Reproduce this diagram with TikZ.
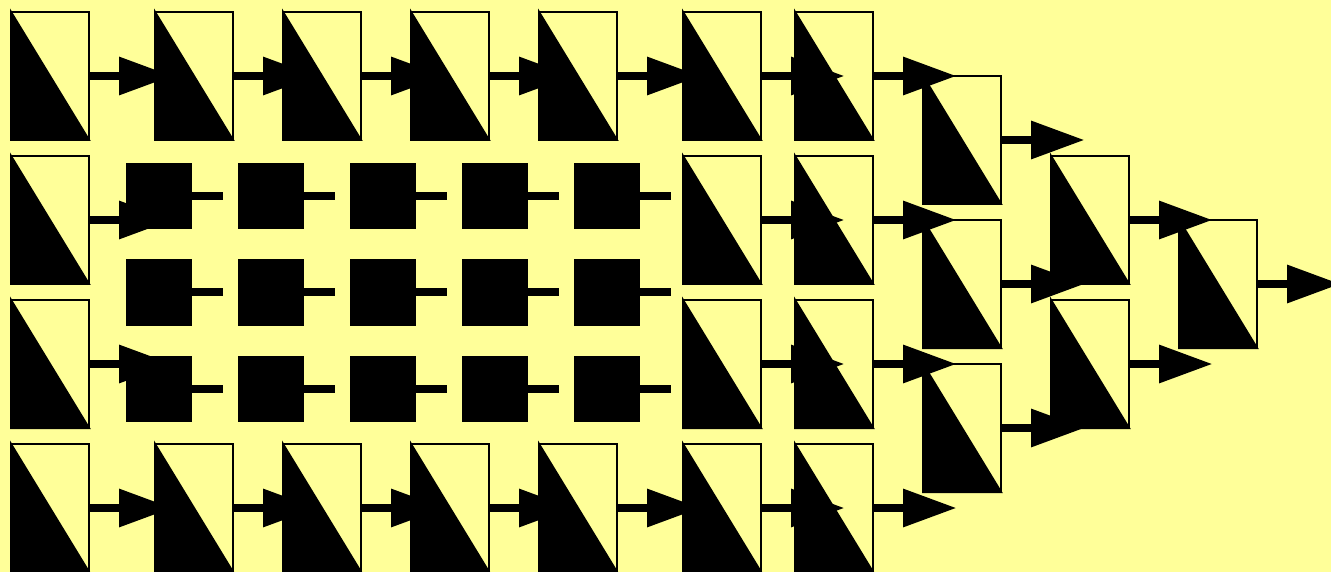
\documentclass[tikz,border=0pt]{standalone}
\usepackage{xcolor}
\usetikzlibrary{positioning, arrows.meta}
\definecolor{paleyellow}{HTML}{FFFF99}

\begin{document}
\begin{tikzpicture}[
    node distance=3.2mm and 10mm,
    halfbox/.style={rectangle, draw, line width=0.4mm, outer sep=0pt, minimum width=15.6mm, minimum height=25.6mm,
        append after command={(\tikzlastnode.north west) edge[fill=black, line width=0.4mm, to path={-- (\tikztotarget) -| (\tikztostart) -- cycle}] (\tikzlastnode.south east)}},
    block/.style={rectangle, fill=black, outer sep=0pt, minimum size=13.2mm},
    arrow/.style={-{Triangle[length=10.7mm, width=7.3mm]}, line width=1.6mm},
    stub/.style={line width=1.6mm}
]
\fill[paleyellow] (0,0) rectangle (26.62,-11.44);
\useasboundingbox (0,0) rectangle (26.62,-11.44);

% left column
\node[halfbox] (a1) at (1,-1.52) {};
\node[halfbox, below=of a1] (a2) {};
\node[halfbox, below=of a2] (a3) {};
\node[halfbox, below=of a3] (a4) {};

% top row
\node[halfbox, right=13.2mm of a1] (b1) {};
\node[halfbox, right=of b1] (c1) {};
\node[halfbox, right=of c1] (d1) {};
\node[halfbox, right=of d1] (e1) {};
\node[halfbox, right=13.2mm of e1] (f1) {};
\node[halfbox, right=6.8mm of f1] (g1) {};

% bottom row
\node[halfbox, right=13.2mm of a4] (b4) {};
\node[halfbox, right=of b4] (c4) {};
\node[halfbox, right=of c4] (d4) {};
\node[halfbox, right=of d4] (e4) {};
\node[halfbox, right=13.2mm of e4] (f4) {};
\node[halfbox, right=6.8mm of f4] (g4) {};

% the two middle rows on the right
\node[halfbox, below=of f1] (f2) {};
\node[halfbox, below=of f2] (f3) {};
\node[halfbox, below=of g1] (g2) {};
\node[halfbox, below=of g2] (g3) {};

% merging stages
\node[halfbox, right=of g1, yshift=-12.8mm] (h1) {};
\node[halfbox, below=of h1] (h2) {};
\node[halfbox, below=of h2] (h3) {};
\node[halfbox, right=of h1, yshift=-16mm] (i1) {};
\node[halfbox, below=of i1] (i2) {};
\node[halfbox, right=of i1, yshift=-12.8mm] (j1) {};

% small blocks
\node[block, right=7.4mm of a2, yshift=4.7mm] (s11) {};
\node[block, right=9.2mm of s11] (s12) {};
\node[block, right=9.2mm of s12] (s13) {};
\node[block, right=9.2mm of s13] (s14) {};
\node[block, right=9.2mm of s14] (s15) {};
\node[block, below=6mm of s11] (s21) {};
\node[block, right=9.2mm of s21] (s22) {};
\node[block, right=9.2mm of s22] (s23) {};
\node[block, right=9.2mm of s23] (s24) {};
\node[block, right=9.2mm of s24] (s25) {};
\node[block, below=6mm of s21] (s31) {};
\node[block, right=9.2mm of s31] (s32) {};
\node[block, right=9.2mm of s32] (s33) {};
\node[block, right=9.2mm of s33] (s34) {};
\node[block, right=9.2mm of s34] (s35) {};

% arrows
\coordinate[right=16.7mm of a1.east] (a1end); \draw[arrow] (a1) -- (a1end);
\coordinate[right=16.7mm of a2.east] (a2end); \draw[arrow] (a2) -- (a2end);
\coordinate[right=16.7mm of a3.east] (a3end); \draw[arrow] (a3) -- (a3end);
\coordinate[right=16.7mm of a4.east] (a4end); \draw[arrow] (a4) -- (a4end);
\coordinate[right=16.7mm of b1.east] (b1end); \draw[arrow] (b1) -- (b1end);
\coordinate[right=16.7mm of c1.east] (c1end); \draw[arrow] (c1) -- (c1end);
\coordinate[right=16.7mm of d1.east] (d1end); \draw[arrow] (d1) -- (d1end);
\coordinate[right=16.7mm of e1.east] (e1end); \draw[arrow] (e1) -- (e1end);
\coordinate[right=16.7mm of b4.east] (b4end); \draw[arrow] (b4) -- (b4end);
\coordinate[right=16.7mm of c4.east] (c4end); \draw[arrow] (c4) -- (c4end);
\coordinate[right=16.7mm of d4.east] (d4end); \draw[arrow] (d4) -- (d4end);
\coordinate[right=16.7mm of e4.east] (e4end); \draw[arrow] (e4) -- (e4end);
\coordinate[right=16.7mm of f1.east] (f1end); \draw[arrow] (f1) -- (f1end);
\coordinate[right=16.7mm of f2.east] (f2end); \draw[arrow] (f2) -- (f2end);
\coordinate[right=16.7mm of f3.east] (f3end); \draw[arrow] (f3) -- (f3end);
\coordinate[right=16.7mm of f4.east] (f4end); \draw[arrow] (f4) -- (f4end);
\coordinate[right=16.7mm of g1.east] (g1end); \draw[arrow] (g1) -- (g1end);
\coordinate[right=16.7mm of g2.east] (g2end); \draw[arrow] (g2) -- (g2end);
\coordinate[right=16.7mm of g3.east] (g3end); \draw[arrow] (g3) -- (g3end);
\coordinate[right=16.7mm of g4.east] (g4end); \draw[arrow] (g4) -- (g4end);
\coordinate[right=16.7mm of h1.east] (h1end); \draw[arrow] (h1) -- (h1end);
\coordinate[right=16.7mm of h2.east] (h2end); \draw[arrow] (h2) -- (h2end);
\coordinate[right=16.7mm of h3.east] (h3end); \draw[arrow] (h3) -- (h3end);
\coordinate[right=16.7mm of i1.east] (i1end); \draw[arrow] (i1) -- (i1end);
\coordinate[right=16.7mm of i2.east] (i2end); \draw[arrow] (i2) -- (i2end);
\coordinate[right=16.7mm of j1.east] (j1end); \draw[arrow] (j1) -- (j1end);

% stubs on the small blocks
\coordinate[right=6.2mm of s11.east] (s11end); \draw[stub] (s11) -- (s11end);
\coordinate[right=6.2mm of s12.east] (s12end); \draw[stub] (s12) -- (s12end);
\coordinate[right=6.2mm of s13.east] (s13end); \draw[stub] (s13) -- (s13end);
\coordinate[right=6.2mm of s14.east] (s14end); \draw[stub] (s14) -- (s14end);
\coordinate[right=6.2mm of s15.east] (s15end); \draw[stub] (s15) -- (s15end);
\coordinate[right=6.2mm of s21.east] (s21end); \draw[stub] (s21) -- (s21end);
\coordinate[right=6.2mm of s22.east] (s22end); \draw[stub] (s22) -- (s22end);
\coordinate[right=6.2mm of s23.east] (s23end); \draw[stub] (s23) -- (s23end);
\coordinate[right=6.2mm of s24.east] (s24end); \draw[stub] (s24) -- (s24end);
\coordinate[right=6.2mm of s25.east] (s25end); \draw[stub] (s25) -- (s25end);
\coordinate[right=6.2mm of s31.east] (s31end); \draw[stub] (s31) -- (s31end);
\coordinate[right=6.2mm of s32.east] (s32end); \draw[stub] (s32) -- (s32end);
\coordinate[right=6.2mm of s33.east] (s33end); \draw[stub] (s33) -- (s33end);
\coordinate[right=6.2mm of s34.east] (s34end); \draw[stub] (s34) -- (s34end);
\coordinate[right=6.2mm of s35.east] (s35end); \draw[stub] (s35) -- (s35end);
\end{tikzpicture}
\end{document}
